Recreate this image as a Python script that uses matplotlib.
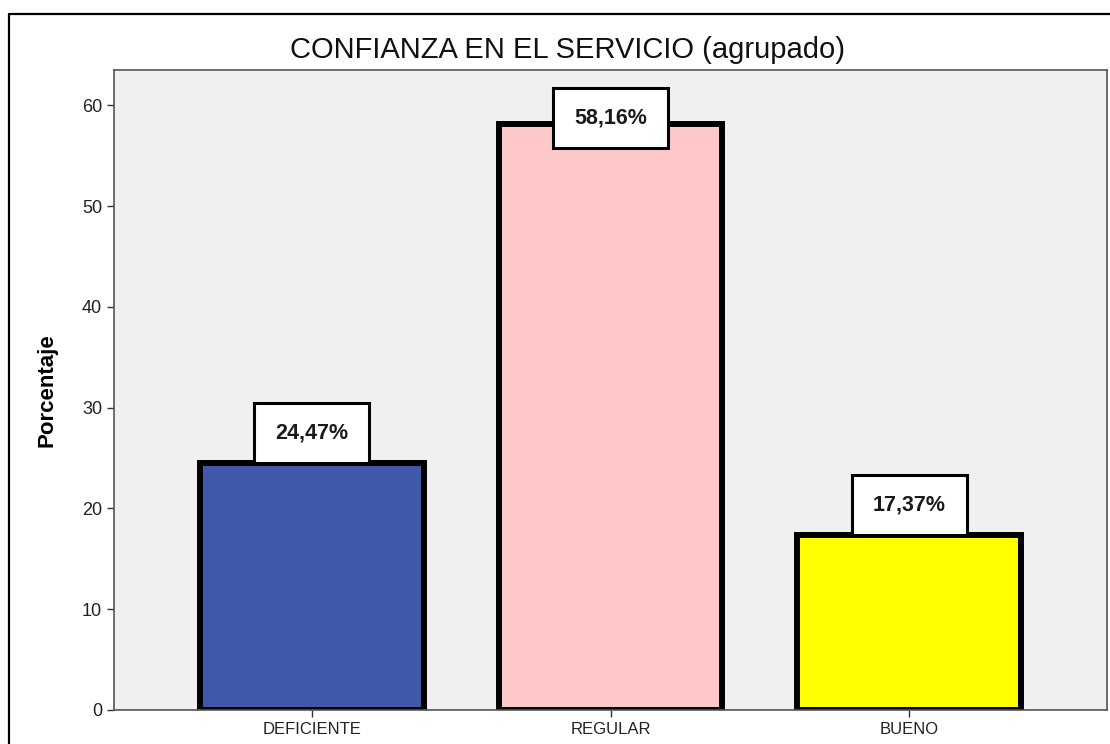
import matplotlib
matplotlib.use("Agg")
import matplotlib.pyplot as plt
from matplotlib.patches import Rectangle
from matplotlib.lines import Line2D

categories = ["DEFICIENTE", "REGULAR", "BUENO"]
percentages = [24.47, 58.16, 17.37]
bar_colors = ["#3f58a8", "#ffc8c8", "#ffff00"]
labels = ["24,47%", "58,16%", "17,37%"]
yticks = [0, 10, 20, 30, 40, 50, 60]

plt.rcParams["font.family"] = ["Liberation Sans", "DejaVu Sans"]

fig = plt.figure(figsize=(11.1, 7.44), dpi=100)
ax = fig.add_axes([114 / 1110, 34 / 744, 993 / 1110, 640 / 744])
ax.set_facecolor("#f0f0f0")

x = range(len(categories))
ax.bar(x, percentages, width=0.75, color=bar_colors, edgecolor="black",
       linewidth=4.3, zorder=2)

ymax = 63.5
ax.set_ylim(0, ymax)
ax.set_xlim(-0.663, 2.663)

# value boxes: sit on top of the bar, or centred on the top if no room
box_w, box_h = 0.385, 5.95
for xi, v, lab in zip(x, percentages, labels):
    if v + box_h <= ymax:
        yc = v + box_h / 2
    else:
        yc = v + 0.6
    ax.add_patch(Rectangle((xi - box_w / 2, yc - box_h / 2), box_w, box_h,
                           facecolor="white", edgecolor="black",
                           linewidth=2.2, zorder=3))
    ax.text(xi, yc, lab, ha="center", va="center", fontsize=15.5,
            fontweight="bold", color="#1a1a1a", zorder=4)

ax.set_xticks(list(x))
ax.set_xticklabels(categories)
ax.set_yticks(yticks)
ax.tick_params(axis="both", labelsize=12, labelcolor="#222222",
               color="#333333", length=5, width=1)
ax.tick_params(axis="y", labelsize=13)
for s in ax.spines.values():
    s.set_color("#555555")
    s.set_linewidth(1.2)

ax.set_ylabel("Porcentaje", fontsize=16, fontweight="bold")
ax.yaxis.set_label_coords(-0.057, 0.5)

fig.text(568 / 1110, 1 - 50 / 744, "CONFIANZA EN EL SERVICIO (agrupado)",
         ha="center", va="center", fontsize=21, color="#111111")

# outer frame (left and top edges visible)
bx, by = 9 / 1110, 1 - 14 / 744
fig.add_artist(Line2D([bx, bx, 1.0], [0.0, by, by], color="black",
                      linewidth=1.6, transform=fig.transFigure))

fig.savefig("out.png", dpi=100)
